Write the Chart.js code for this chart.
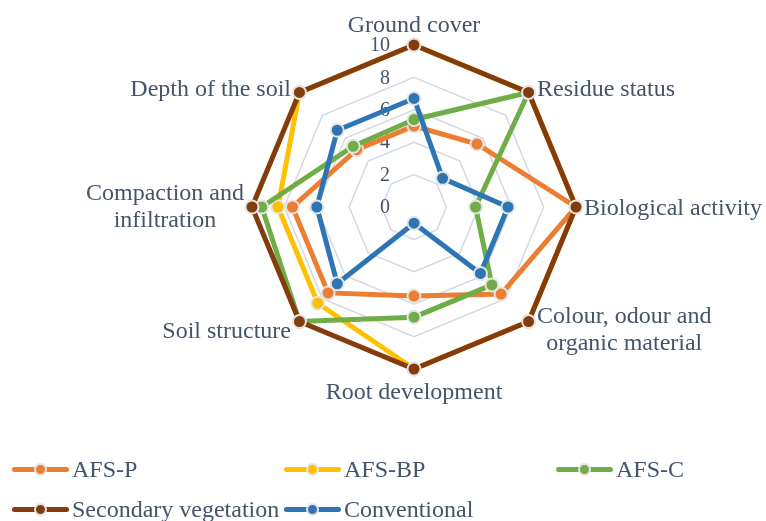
<!DOCTYPE html>
<html>
<head>
<meta charset="utf-8">
<script src="https://cdn.jsdelivr.net/npm/chart.js@4"></script>
<style>
  html, body { margin: 0; padding: 0; background: #fff; overflow: hidden; }
  #wrap { position: relative; width: 766px; height: 521px; }
  #chart { position: absolute; left: 0; top: 0; }
  #legend { position: absolute; left: 0; top: 0; width: 766px; height: 521px; pointer-events: none;
            font-family: "Liberation Serif", "Times New Roman", serif; font-size: 24px; color: #44546A; }
  .item { position: absolute; display: flex; align-items: center; height: 30px; white-space: nowrap; }
  .sym { position: relative; width: 57px; height: 13px; margin-right: 3px; flex: none; }
  .sym .ln { position: absolute; left: 0; right: 0; top: 4px; height: 5px; border-radius: 3px; }
  .sym .dot { position: absolute; left: 22px; top: 0; width: 9px; height: 9px; border-radius: 50%;
              border: 2px solid #e4e4e4; }
</style>
</head>
<body>
<div id="wrap">
  <canvas id="chart" width="766" height="521"></canvas>
  <div id="legend"></div>
</div>
<script>
// Soil quality indicators (scored 0–10) for each land-use system
const categories = [
  'Ground cover',
  'Residue status',
  'Biological activity',
  ['Colour, odour and', 'organic material'],
  'Root development',
  'Soil structure',
  ['Compaction and', 'infiltration'],
  'Depth of the soil'
];
const seriesNames = ['AFS-P', 'AFS-BP', 'AFS-C', 'Secondary vegetation', 'Conventional'];
const afsP         = [5,   5.5, 10,  7.6, 5.5, 7.5, 7.5, 5];
const afsBP        = [10,  10,  10,  10,  10,  8.4, 8.4, 10];
const afsC         = [5.4, 10,  3.8, 6.8, 6.8, 10,  9.4, 5.3];
const secondaryVeg = [10,  10,  10,  10,  10,  10,  10,  10];
const conventional = [6.7, 2.5, 5.8, 5.8, 1,   6.7, 6,   6.7];
const tickMin = 0, tickMax = 10, tickStep = 2;

const colors = ['#ED7D31', '#FFC000', '#70AD47', '#843C0C', '#2E75B6'];
const TEXT = '#44546A';
const FONT = '"Liberation Serif", "Times New Roman", serif';

const seriesValues = [afsP, afsBP, afsC, secondaryVeg, conventional];

const datasets = seriesNames.map((name, i) => ({
  label: name,
  data: seriesValues[i],
  borderColor: colors[i],
  backgroundColor: colors[i],
  pointBackgroundColor: colors[i],
  pointBorderColor: '#e4e4e4',
  pointBorderWidth: 2,
  pointRadius: 6.5,
  borderWidth: 5,
  fill: false,
  tension: 0,
  // later series are painted over earlier ones
  order: seriesNames.length - i
}));

// Value labels beside the vertical axis and category names around the web
const axisText = {
  id: 'axisText',
  beforeDatasetsDraw(chart) {
    const s = chart.scales.r;
    const ctx = chart.ctx;
    ctx.save();
    ctx.fillStyle = TEXT;

    ctx.font = '20px ' + FONT;
    ctx.textAlign = 'right';
    ctx.textBaseline = 'middle';
    s.ticks.forEach(t => {
      const d = s.getDistanceFromCenterForValue(t.value);
      ctx.fillText(String(t.value), s.xCenter - 24, s.yCenter - d + 1);
    });

    ctx.font = '24px ' + FONT;
    ctx.textAlign = 'center';
    const lh = 27;
    categories.forEach((lab, i) => {
      const lines = Array.isArray(lab) ? lab : [lab];
      const deg = ((Math.round(s.getIndexAngle(i) * 180 / Math.PI) % 360) + 360) % 360;
      const diag = deg % 90 !== 0;
      const p = s.getPointPosition(i, s.drawingArea + (diag ? 12 : 8));
      const w = Math.max(...lines.map(l => ctx.measureText(l).width));
      const h = lines.length * lh;
      let left, top;
      if (deg === 0 || deg === 180) left = p.x - w / 2;
      else if (deg < 180) left = p.x;
      else left = p.x - w;
      if (deg === 0) top = p.y - h;
      else if (deg === 180) top = p.y;
      else top = p.y - h / 2;
      // single-line names sit a little lower; upper diagonal ones lower still
      let shift = lines.length === 1 ? 2 : 0;
      if (diag && (deg < 90 || deg > 270)) shift += 4;
      lines.forEach((l, k) => ctx.fillText(l, left + w / 2, top + lh * k + lh / 2 + shift));
    });
    ctx.restore();
  }
};

new Chart(document.getElementById('chart'), {
  type: 'radar',
  data: { labels: categories, datasets },
  options: {
    responsive: false,
    animation: false,
    layout: { padding: { top: 45, bottom: 152, left: 62, right: 0 } },
    plugins: { legend: { display: false }, tooltip: { enabled: false } },
    scales: {
      r: {
        min: tickMin,
        max: tickMax,
        ticks: { stepSize: tickStep, display: false },
        grid: { color: '#d3d9e2', lineWidth: 1.5 },
        angleLines: { display: false },
        pointLabels: { display: false }
      }
    }
  },
  plugins: [axisText]
});

// Legend laid out in three columns, built from the series definitions
const legendCols = [12, 284, 556];
const legendRows = [469, 509];
const legend = document.getElementById('legend');
seriesNames.forEach((name, i) => {
  const item = document.createElement('div');
  item.className = 'item';
  item.style.left = legendCols[i % 3] + 'px';
  item.style.top = (legendRows[Math.floor(i / 3)] - 15) + 'px';
  const sym = document.createElement('span');
  sym.className = 'sym';
  const ln = document.createElement('span');
  ln.className = 'ln';
  ln.style.background = colors[i];
  const dot = document.createElement('span');
  dot.className = 'dot';
  dot.style.background = colors[i];
  sym.appendChild(ln);
  sym.appendChild(dot);
  const txt = document.createElement('span');
  txt.textContent = name;
  item.appendChild(sym);
  item.appendChild(txt);
  legend.appendChild(item);
});
</script>
</body>
</html>
